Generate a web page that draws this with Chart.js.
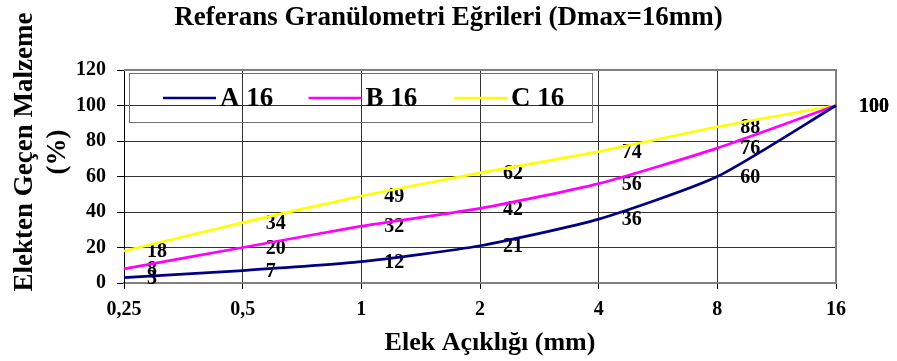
<!DOCTYPE html>
<html>
<head>
<meta charset="utf-8">
<script src="https://cdn.jsdelivr.net/npm/chart.js@4/dist/chart.umd.min.js"></script>
<style>
  html, body { margin: 0; padding: 0; background: #fff; }
  #wrap { width: 897px; height: 361px; }
</style>
</head>
<body>
<div id="wrap"><canvas id="c" width="897" height="361"></canvas></div>
<script>
// Sieve sizes (mm) and passing percentages of the reference grading curves
const sieveLabels = ['0,25', '0,5', '1', '2', '4', '8', '16'];
const seriesNames = ['A 16', 'B 16', 'C 16'];
const passingA = [3, 7, 12, 21, 36, 60, 100];
const passingB = [8, 20, 32, 42, 56, 76, 100];
const passingC = [18, 34, 49, 62, 74, 88, 100];
const yTicks = [0, 20, 40, 60, 80, 100, 120];

const chartTitle = 'Referans Granülometri Eğrileri (Dmax=16mm)';
const yTitleLines = ['Elekten Geçen Malzeme', '(%)'];
const xTitle = 'Elek Açıklığı (mm)';

const SERIF = "'Liberation Serif', 'Times New Roman', serif";
const colors = ['#000080', '#ff00ff', '#ffff00'];

// Chart title, axis titles, plot frame and boxed legend
const decorations = {
  id: 'decorations',
  beforeDatasetsDraw(chart) {
    const { ctx, chartArea: a } = chart;
    ctx.save();
    // grey frame on top and right of the plot area
    ctx.strokeStyle = '#808080';
    ctx.lineWidth = 2;
    ctx.beginPath();
    ctx.moveTo(a.left, a.top);
    ctx.lineTo(a.right, a.top);
    ctx.lineTo(a.right, a.bottom);
    ctx.stroke();

    // legend box inside the plot area
    const bx = a.left + 5, by = a.top + 3, bw = 463, bh = 49;
    ctx.strokeStyle = '#707070';
    ctx.lineWidth = 1;
    ctx.strokeRect(bx + 0.5, by + 0.5, bw, bh);
    const midY = by + 25;
    ctx.font = 'bold 27px ' + SERIF;
    ctx.textBaseline = 'middle';
    ctx.textAlign = 'left';
    chart.data.datasets.forEach((ds, i) => {
      const x0 = bx + 34 + i * 145.5;
      ctx.strokeStyle = ds.borderColor;
      ctx.lineWidth = 2.5;
      ctx.beginPath();
      ctx.moveTo(x0, midY);
      ctx.lineTo(x0 + 53, midY);
      ctx.stroke();
      ctx.fillStyle = '#000';
      ctx.fillText(ds.label, x0 + 57, midY + 1);
    });

    // value labels beside each point
    ctx.font = 'bold 20px ' + SERIF;
    ctx.fillStyle = '#000';
    ctx.textBaseline = 'middle';
    ctx.textAlign = 'left';
    chart.data.datasets.forEach((ds, i) => {
      const meta = chart.getDatasetMeta(i);
      meta.data.forEach((pt, j) => {
        ctx.fillText(String(ds.data[j]), pt.x + 23, pt.y + 1);
      });
    });
    ctx.restore();
  },
  afterDraw(chart) {
    const { ctx, chartArea: a } = chart;
    ctx.save();
    ctx.fillStyle = '#000';
    ctx.textAlign = 'center';
    // chart title
    ctx.font = 'bold 27px ' + SERIF;
    ctx.textBaseline = 'alphabetic';
    ctx.fillText(chartTitle, chart.width / 2, 25);
    // x axis title
    ctx.font = 'bold 26px ' + SERIF;
    ctx.fillText(xTitle, (a.left + a.right) / 2 + 10, 350);
    // y axis title, two rotated lines
    ctx.font = 'bold 27px ' + SERIF;
    ctx.textBaseline = 'middle';
    [25, 58].forEach((x, k) => {
      ctx.save();
      ctx.translate(x, a.top + 82);
      ctx.rotate(-Math.PI / 2);
      ctx.fillText(yTitleLines[k], 0, 0);
      ctx.restore();
    });
    ctx.restore();
  }
};

new Chart(document.getElementById('c'), {
  type: 'line',
  data: {
    labels: sieveLabels,
    datasets: [passingA, passingB, passingC].map((d, i) => ({
      label: seriesNames[i],
      data: d,
      borderColor: colors[i],
      backgroundColor: colors[i],
      borderWidth: 2.7,
      pointRadius: 0,
      tension: 0.2,
      fill: false
    }))
  },
  options: {
    responsive: false,
    animation: false,
    devicePixelRatio: 1,
    layout: { padding: { top: 70, right: 61, bottom: 0, left: 0 } },
    plugins: {
      legend: { display: false },
      title: { display: false },
      tooltip: { enabled: false }
    },
    scales: {
      x: {
        type: 'category',
        offset: false,
        afterFit(s) { s.height = 78; },
        grid: { color: '#333', lineWidth: 1, tickLength: 6, tickColor: '#000' },
        border: { color: '#808080', width: 2 },
        ticks: {
          color: '#000',
          padding: 9,
          maxRotation: 0,
          autoSkip: false,
          font: { family: SERIF, size: 20, weight: 'bold' }
        }
      },
      y: {
        min: 0,
        max: 120,
        afterFit(s) { s.width = 124; },
        afterBuildTicks(s) { s.ticks = yTicks.map(v => ({ value: v })); },
        grid: { color: '#333', lineWidth: 1, tickLength: 7, tickColor: '#000' },
        border: { color: '#000', width: 1 },
        ticks: {
          color: '#000',
          padding: 11,
          font: { family: SERIF, size: 20, weight: 'bold' }
        }
      }
    }
  },
  plugins: [decorations]
});
</script>
</body>
</html>
